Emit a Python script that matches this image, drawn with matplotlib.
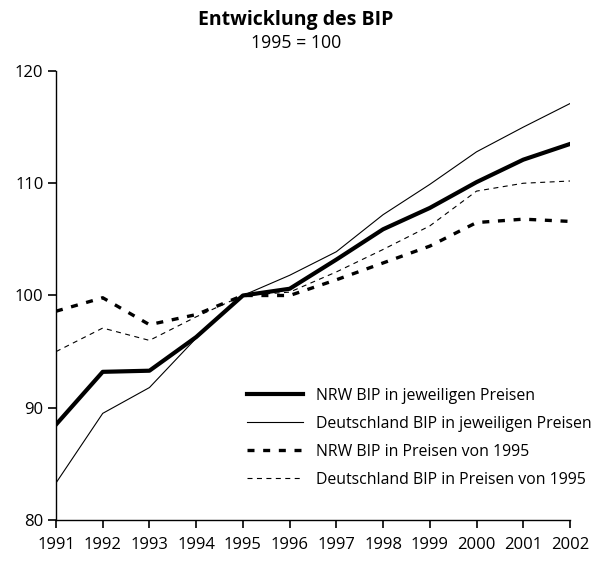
import matplotlib
matplotlib.use("Agg")
import matplotlib.pyplot as plt

years = [1991, 1992, 1993, 1994, 1995, 1996, 1997, 1998, 1999, 2000, 2001, 2002]
nrw_nominal = [88.5, 93.2, 93.3, 96.3, 100.0, 100.6, 103.2, 105.9, 107.8, 110.1, 112.1, 113.5]
de_nominal = [83.3, 89.5, 91.8, 96.2, 100.0, 101.8, 103.9, 107.2, 109.9, 112.8, 115.0, 117.1]
nrw_real = [98.6, 99.8, 97.4, 98.3, 100.0, 100.0, 101.4, 102.9, 104.4, 106.5, 106.8, 106.6]
de_real = [95.0, 97.1, 96.0, 98.1, 100.0, 100.3, 102.1, 104.1, 106.2, 109.3, 110.0, 110.2]

labels = ["NRW BIP in jeweiligen Preisen",
          "Deutschland BIP in jeweiligen Preisen",
          "NRW BIP in Preisen von 1995",
          "Deutschland BIP in Preisen von 1995"]

plt.rcParams['font.family'] = ['Open Sans', 'DejaVu Sans']

fig = plt.figure(figsize=(5.92, 5.61), dpi=100)
ax = fig.add_axes([56/592, 1-520/561, (570-56)/592, (520-71)/561])

ax.plot(years, nrw_nominal, color='black', lw=3.0, label=labels[0])
ax.plot(years, de_nominal, color='black', lw=0.8, label=labels[1])
ax.plot(years, nrw_real, color='black', lw=2.4, linestyle=(0, (2.1, 2.6)), label=labels[2])
ax.plot(years, de_real, color='black', lw=0.8, linestyle=(0, (4.5, 4)), label=labels[3])

ax.set_xlim(1991, 2002)
ax.set_ylim(80, 120)
ax.set_xticks(years)
ax.set_yticks([80, 90, 100, 110, 120])
ax.spines['top'].set_visible(False)
ax.spines['right'].set_visible(False)
ax.spines['left'].set_linewidth(1.0)
ax.spines['bottom'].set_linewidth(1.0)
ax.tick_params(axis='both', direction='out', length=6, width=1.2, labelsize=12)
ax.tick_params(axis='x', pad=6)
ax.tick_params(axis='y', pad=3)

fig.text(0.5, 1-20/561, "Entwicklung des BIP", ha='center', va='center', fontsize=14, fontweight='bold')
fig.text(0.5, 1-43/561, "1995 = 100", ha='center', va='center', fontsize=12.8)

leg = ax.legend(loc='lower right', bbox_to_anchor=(1.0545, 0.058), frameon=False, fontsize=11.4,
                handlelength=3.54, handletextpad=0.82, labelspacing=0.75, borderaxespad=0)

fig.savefig("out.png", dpi=100)
